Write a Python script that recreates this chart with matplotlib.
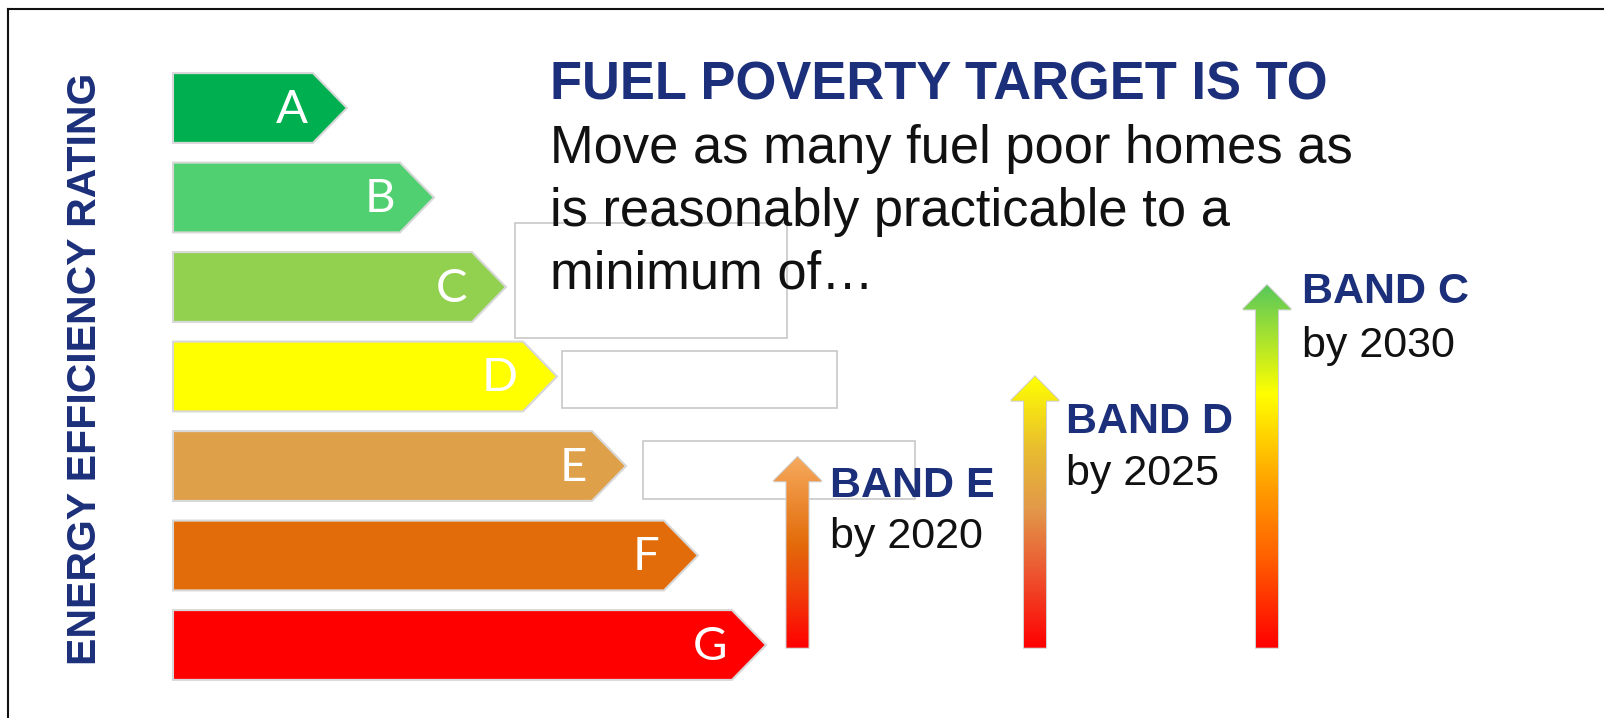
import matplotlib
matplotlib.use('Agg')
import matplotlib.pyplot as plt
from matplotlib.patches import Polygon, Rectangle
from matplotlib.colors import LinearSegmentedColormap
from matplotlib.lines import Line2D
import numpy as np

# energy rating bands (row 0 = A at top)
ratings = ['A', 'B', 'C', 'D', 'E', 'F', 'G']
bar_lengths = [140, 227, 299, 350, 419, 491, 559]
bar_colors = ['#00b050', '#50d070', '#92d050', '#ffff00', '#dfa04a', '#e36c0a', '#ff0000']

# fuel poverty targets
target_bands = ['BAND E', 'BAND D', 'BAND C']
target_years = ['by 2020', 'by 2025', 'by 2030']
target_levels = [3.9, 3.0, 1.98]   # rating row the arrow reaches
arrow_base = 6.03
arrow_gradients = [
    [(0.0, '#ff0000'), (0.3, '#f0400a'), (0.55, '#e36c0a'), (1.0, '#f6aa5e')],
    [(0.0, '#ff0000'), (0.29, '#ec5a32'), (0.51, '#e2984a'), (0.73, '#e8bc30'), (1.0, '#ffff00')],
    [(0.0, '#ff0000'), (0.25, '#ff6000'), (0.45, '#ffa000'), (0.7, '#ffff00'), (1.0, '#58c85a')],
]

NAVY = '#1c2f7a'
W, H = 1604, 718
ROW0, PITCH = 108, 89.5   # pixel centre of row A, row spacing

fig = plt.figure(figsize=(W / 100, H / 100), dpi=100)
ax = fig.add_axes([0, 0, 1, 1])
ax.set_axis_off()

bar_left = 173
bar_h = 0.78
tip = 34
for i, (lab, L, c) in enumerate(zip(ratings, bar_lengths, bar_colors)):
    pts = [(bar_left, i - bar_h / 2), (bar_left + L, i - bar_h / 2), (bar_left + L + tip, i),
           (bar_left + L, i + bar_h / 2), (bar_left, i + bar_h / 2)]
    ax.add_patch(Polygon(pts, closed=True, facecolor=c, edgecolor='#d8d8d8', lw=1.5, zorder=2))
    ax.text(bar_left + L - 5, i + 0.02, lab, color='white', fontsize=34, family='Lato',
            ha='right', va='center', zorder=3)

# empty grey outline boxes
for (x0, y0, x1, y1) in [(515, 223, 787, 338), (562, 351, 837, 408), (643, 441, 915, 499)]:
    r0, r1 = (y0 - ROW0) / PITCH, (y1 - ROW0) / PITCH
    ax.add_patch(Rectangle((x0, r0), x1 - x0, r1 - r0, facecolor='white',
                           edgecolor='#c8c8c8', lw=1.2, zorder=1))

# gradient arrows
arrow_x = [797.5, 1035, 1267]
shaft_hw, head_hw, head_h = 11, 24, 0.27
for xc, lvl, grad in zip(arrow_x, target_levels, arrow_gradients):
    pts = [(xc - shaft_hw, arrow_base), (xc - shaft_hw, lvl + head_h), (xc - head_hw, lvl + head_h),
           (xc, lvl), (xc + head_hw, lvl + head_h), (xc + shaft_hw, lvl + head_h),
           (xc + shaft_hw, arrow_base)]
    poly = Polygon(pts, closed=True, facecolor='none', edgecolor='#d0d0d0', lw=1.5, zorder=4)
    ax.add_patch(poly)
    cmap = LinearSegmentedColormap.from_list('g', grad)
    g = np.linspace(1, 0, 256).reshape(-1, 1)
    im = ax.imshow(g, cmap=cmap, vmin=0, vmax=1, aspect='auto', origin='upper',
                   extent=(xc - head_hw, xc + head_hw, arrow_base, lvl), zorder=5)
    im.set_clip_path(poly)

ax.set_xlim(0, W)
ax.set_ylim((H - ROW0) / PITCH, -ROW0 / PITCH)

def px(x, y):
    return x / W, 1 - y / H

# band labels
label_pos = [(830, 497, 548), (1066, 433, 485), (1302, 303, 357)]
for (x, yb, yy), band, yr in zip(label_pos, target_bands, target_years):
    fig.text(*px(x, yb), band, color=NAVY, fontsize=31, fontweight='bold',
             family='Liberation Sans', ha='left', va='baseline', zorder=6)
    fig.text(*px(x, yy), yr, color='#111111', fontsize=31,
             family='Liberation Sans', ha='left', va='baseline', zorder=6)

# heading and body text
fig.text(*px(550, 100), 'FUEL POVERTY TARGET IS TO', color=NAVY, fontsize=37.8,
         fontweight='bold', family='Liberation Sans', ha='left', va='baseline')
body = ['Move as many fuel poor homes as', 'is reasonably practicable to a', 'minimum of\u2026']
for k, line in enumerate(body):
    fig.text(*px(550, 163 + 63 * k), line, color='#111111', fontsize=37.8,
             family='Liberation Sans', ha='left', va='baseline')

fig.text(*px(85, 369), 'ENERGY EFFICIENCY RATING', color=NAVY, fontsize=29.5,
         fontweight='bold', family='Liberation Sans', rotation=90, ha='center', va='center')

# frame (left and top edges only)
fig.add_artist(Line2D([8 / W, 8 / W], [0, 1 - 9 / H], color='#111111', lw=1.5))
fig.add_artist(Line2D([8 / W, 1], [1 - 9 / H, 1 - 9 / H], color='#111111', lw=1.5))

fig.savefig('out.png', dpi=100)
